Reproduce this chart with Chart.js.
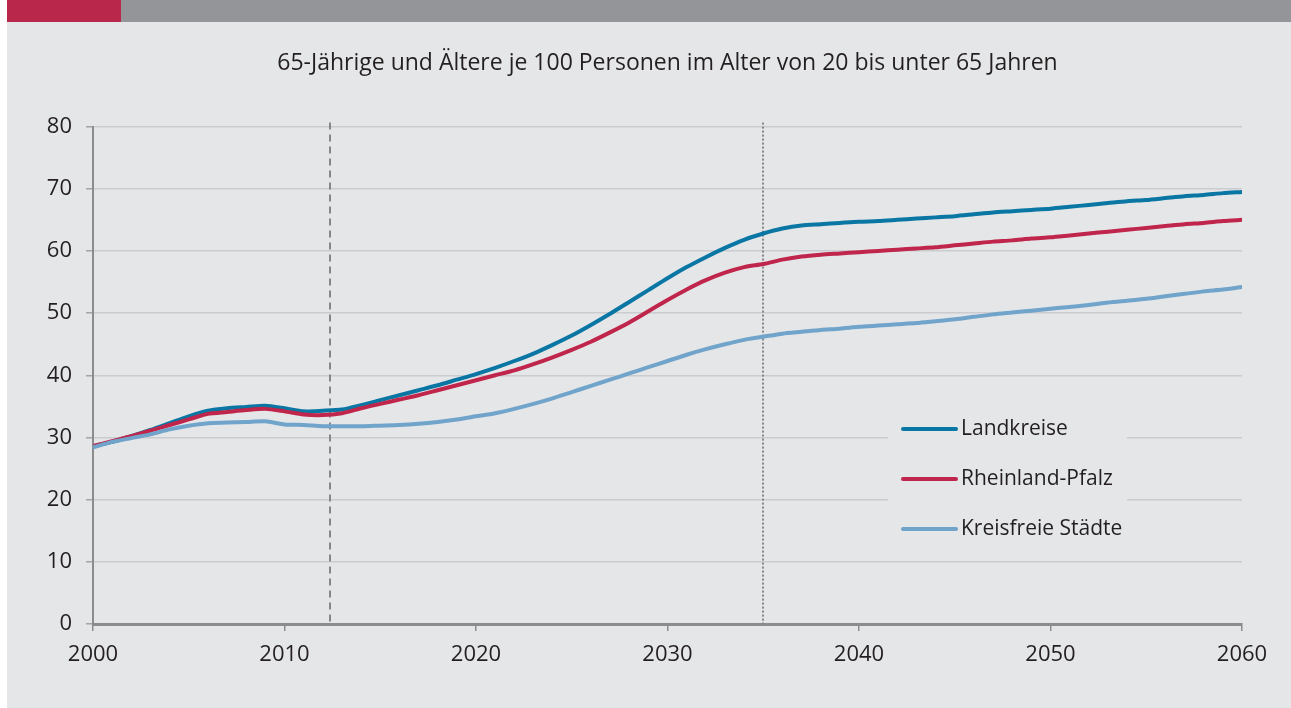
<!DOCTYPE html>
<html>
<head>
<meta charset="utf-8">
<script src="https://cdn.jsdelivr.net/npm/chart.js@4.4.1/dist/chart.umd.min.js"></script>
<style>
    body { margin: 0; background: #ffffff; }
    #bar-red { position: absolute; left: 7px; top: 0; width: 114px; height: 22px; background: #b9274b; }
    #bar-grey { position: absolute; left: 121px; top: 0; width: 1170px; height: 22px; background: #939598; }
    #panel { position: absolute; left: 7px; top: 22px; width: 1284px; height: 686px; background: #e5e6e8; }
    #myChart { position: absolute; left: 0; top: 0; }
</style>
</head>
<body>
<div id="bar-red"></div>
<div id="bar-grey"></div>
<div id="panel"></div>
<canvas id="myChart" width="1291" height="708"></canvas>
<script>
years = [
    2000, 2001, 2002, 2003, 2004, 2005, 2006, 2007, 2008, 2009,
    2010, 2011, 2012, 2013, 2014, 2015, 2016, 2017, 2018, 2019,
    2020, 2021, 2022, 2023, 2024, 2025, 2026, 2027, 2028, 2029,
    2030, 2031, 2032, 2033, 2034, 2035, 2036, 2037, 2038, 2039,
    2040, 2041, 2042, 2043, 2044, 2045, 2046, 2047, 2048, 2049,
    2050, 2051, 2052, 2053, 2054, 2055, 2056, 2057, 2058, 2059,
    2060,
]

landkreise = [
    28.6, 29.3, 30.2, 31.2, 32.3, 33.4, 34.3, 34.7, 34.9, 35.1,
    34.7, 34.2, 34.3, 34.5, 35.2, 36.0, 36.8, 37.6, 38.4, 39.3,
    40.2, 41.2, 42.3, 43.5, 44.9, 46.4, 48.1, 49.9, 51.8, 53.7,
    55.6, 57.4, 59.0, 60.5, 61.8, 62.8, 63.6, 64.1, 64.3, 64.5,
    64.7, 64.8, 65.0, 65.2, 65.4, 65.6, 65.9, 66.2, 66.4, 66.6,
    66.8, 67.1, 67.4, 67.7, 68.0, 68.2, 68.5, 68.8, 69.0, 69.3,
    69.5,
]

rheinlandPfalz = [
    28.6, 29.4, 30.2, 31.1, 32.0, 32.9, 33.8, 34.1, 34.4, 34.6,
    34.2, 33.7, 33.6, 33.9, 34.7, 35.4, 36.1, 36.8, 37.6, 38.4,
    39.2, 40.0, 40.8, 41.8, 42.9, 44.1, 45.4, 46.9, 48.5, 50.3,
    52.1, 53.8, 55.3, 56.5, 57.4, 57.9, 58.6, 59.1, 59.4, 59.6,
    59.8, 60.0, 60.2, 60.4, 60.6, 60.9, 61.2, 61.5, 61.7, 62.0,
    62.2, 62.5, 62.8, 63.1, 63.4, 63.7, 64.0, 64.3, 64.5, 64.8,
    65.0,
]

kreisfreieStaedte = [
    28.4, 29.3, 29.9, 30.5, 31.3, 31.9, 32.3, 32.4, 32.5, 32.6,
    32.1, 32.0, 31.8, 31.8, 31.8, 31.9, 32.0, 32.2, 32.5, 32.9,
    33.4, 33.9, 34.6, 35.4, 36.3, 37.3, 38.3, 39.3, 40.3, 41.3,
    42.3, 43.3, 44.2, 45.0, 45.7, 46.2, 46.7, 47.0, 47.3, 47.5,
    47.8, 48.0, 48.2, 48.4, 48.7, 49.0, 49.4, 49.8, 50.1, 50.4,
    50.7, 51.0, 51.3, 51.7, 52.0, 52.3, 52.7, 53.1, 53.5, 53.8,
    54.2,
]

seriesNames = ['Landkreise', 'Rheinland-Pfalz', 'Kreisfreie Städte']
yTicks = [0, 10, 20, 30, 40, 50, 60, 70, 80]
xTicks = [2000, 2010, 2020, 2030, 2040, 2050, 2060]
markerYears = [2012.4, 2035]

var titleText = '65-Jährige und Ältere je 100 Personen im Alter von 20 bis unter 65 Jahren';
var textColor = '#231f20';
var bgColor = '#e5e6e8';
var fontFamily = '"Open Sans", "Noto Sans", sans-serif';

function points(values) {
    return values.map(function (v, i) { return { x: years[i], y: v }; });
}

// gestrichelte / gepunktete Trennlinien
var markerPlugin = {
    id: 'markers',
    beforeDatasetsDraw: function (chart) {
        var ctx = chart.ctx;
        var xs = chart.scales.x;
        var area = chart.chartArea;
        var dashes = [[7, 5], [2, 2]];
        ctx.save();
        ctx.strokeStyle = '#86878a';
        ctx.lineWidth = 2;
        markerYears.forEach(function (yr, i) {
            var px = Math.round(xs.getPixelForValue(yr));
            ctx.setLineDash(dashes[i]);
            ctx.beginPath();
            ctx.moveTo(px, area.top - 4);
            ctx.lineTo(px, area.bottom);
            ctx.stroke();
        });
        ctx.restore();
    }
};

// Legende im Diagramm
var legendPlugin = {
    id: 'boxLegend',
    afterDatasetsDraw: function (chart) {
        var ctx = chart.ctx;
        var area = chart.chartArea;
        var left = area.right - 354;
        var top = area.bottom - 214;
        ctx.save();
        ctx.fillStyle = bgColor;
        ctx.fillRect(left, top, 239, 140);
        ctx.font = '21px ' + fontFamily;
        ctx.textBaseline = 'middle';
        chart.data.datasets.forEach(function (ds, i) {
            var y = area.bottom - 195 + i * 50;
            ctx.strokeStyle = ds.borderColor;
            ctx.lineWidth = 4;
            ctx.lineCap = 'round';
            ctx.beginPath();
            ctx.moveTo(left + 15, y);
            ctx.lineTo(left + 68, y);
            ctx.stroke();
            ctx.fillStyle = textColor;
            ctx.fillText(ds.label, left + 73, y);
        });
        ctx.restore();
    }
};

function renderChart() {
    var ctx = document.getElementById('myChart').getContext('2d');
    var myChart = new Chart(ctx, {
        type: 'line',
        data: {
            datasets: [{
                label: seriesNames[0],
                data: points(landkreise),
                borderColor: '#0a76a4',
                order: 2
            }, {
                label: seriesNames[1],
                data: points(rheinlandPfalz),
                borderColor: '#c0254b',
                order: 1
            }, {
                label: seriesNames[2],
                data: points(kreisfreieStaedte),
                borderColor: '#70a4cb',
                order: 0
            }]
        },
        options: {
            responsive: false,
            devicePixelRatio: 1,
            animation: false,
            layout: { padding: { left: 0, right: 49, top: 0, bottom: 0 } },
            elements: {
                point: { radius: 0 },
                line: { borderWidth: 4, tension: 0.25, borderCapStyle: 'round', fill: false }
            },
            plugins: {
                legend: { display: false },
                tooltip: { enabled: false },
                title: {
                    display: true,
                    text: titleText,
                    fullSize: false,
                    color: textColor,
                    font: { family: fontFamily, size: 23, weight: 'normal', lineHeight: 1.2 },
                    padding: { top: 50, bottom: 49 }
                }
            },
            scales: {
                x: {
                    type: 'linear',
                    min: 2000,
                    max: 2060,
                    afterBuildTicks: function (axis) {
                        axis.ticks = xTicks.map(function (v) { return { value: v }; });
                    },
                    afterFit: function (axis) { axis.height = 84; },
                    grid: { drawOnChartArea: false, tickLength: 7, color: '#8b8c8e', lineWidth: 1.5 },
                    border: { color: '#8b8c8e', width: 3 },
                    ticks: {
                        color: textColor,
                        padding: 11,
                        maxRotation: 0,
                        font: { family: fontFamily, size: 22 },
                        callback: function (v) { return String(v); }
                    }
                },
                y: {
                    min: 0,
                    max: 80,
                    afterBuildTicks: function (axis) {
                        axis.ticks = yTicks.map(function (v) { return { value: v }; });
                    },
                    afterFit: function (axis) { axis.width = 93; },
                    grid: { color: '#cbcccf', lineWidth: 1.5, tickLength: 7, tickColor: '#a4a5a8' },
                    border: { color: '#8b8c8e', width: 2 },
                    ticks: {
                        color: textColor,
                        padding: 14,
                        font: { family: fontFamily, size: 22 }
                    }
                }
            }
        },
        plugins: [markerPlugin, legendPlugin]
    });
    return myChart;
}

renderChart();
</script>
</body>
</html>
